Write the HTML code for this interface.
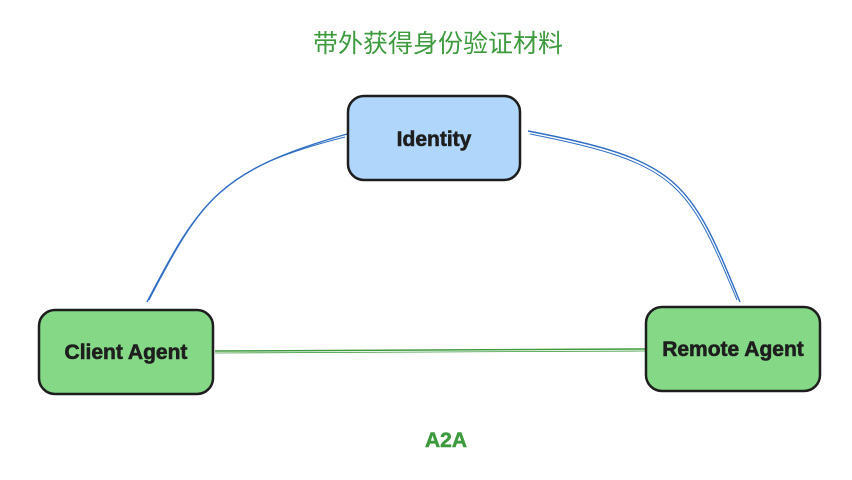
<!DOCTYPE html>
<html><head><meta charset="utf-8"><style>
html,body{margin:0;padding:0;background:#fff;}
svg{display:block}
text{font-family:"Liberation Sans","Noto Sans CJK SC",sans-serif;}
</style></head><body>
<svg width="852" height="480" viewBox="0 0 852 480">
<text x="438" y="52" text-anchor="middle" font-size="25" fill="#3d9a3d">带外获得身份验证材料</text>
<path d="M147 302 C200 200,220 170,347 134" stroke="#2f6fc4" stroke-width="1.4" fill="none"/>
<path d="M149 300 C202 198,222 168,345 137" stroke="#2f6fc4" stroke-width="1" fill="none"/>
<path d="M528 131 C680 160,690 180,740 302" stroke="#2f6fc4" stroke-width="1.4" fill="none"/>
<path d="M530 134 C678 163,688 183,737 300" stroke="#2f6fc4" stroke-width="1" fill="none"/>
<path d="M215 351 L645 349" stroke="#3d9a3d" stroke-width="1.5" fill="none"/>
<path d="M215 353 L645 351" stroke="#3d9a3d" stroke-width="0.8" fill="none"/>
<rect x="348" y="96" width="172" height="84" rx="16" fill="#b0d7fb" stroke="#1e1e1e" stroke-width="2.5"/>
<rect x="39" y="310" width="174" height="84" rx="16" fill="#84d886" stroke="#1e1e1e" stroke-width="2.5"/>
<rect x="646" y="307" width="174" height="84" rx="16" fill="#84d886" stroke="#1e1e1e" stroke-width="2.5"/>
<text x="434" y="146" text-anchor="middle" font-size="21" font-weight="bold" fill="#1e1e1e" stroke="#1e1e1e" stroke-width="0.6">Identity</text>
<text x="126" y="359" text-anchor="middle" font-size="21" font-weight="bold" fill="#1e1e1e" stroke="#1e1e1e" stroke-width="0.6">Client Agent</text>
<text x="733" y="356" text-anchor="middle" font-size="21" font-weight="bold" fill="#1e1e1e" stroke="#1e1e1e" stroke-width="0.6">Remote Agent</text>
<text x="446" y="447" text-anchor="middle" font-size="21" font-weight="bold" fill="#3d9a3d" stroke="#3d9a3d" stroke-width="0.5">A2A</text>
</svg>
</body></html>
